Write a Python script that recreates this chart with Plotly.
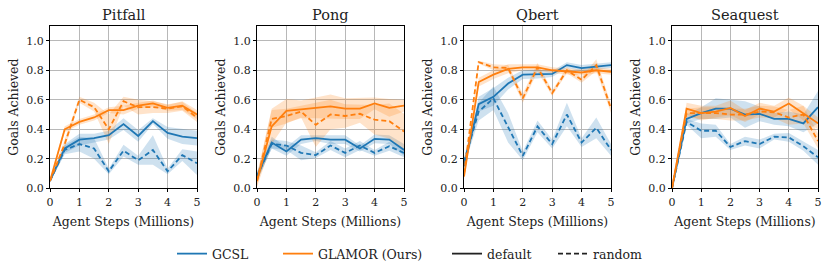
import plotly.graph_objects as go

steps = [0, 0.5, 1, 1.5, 2, 2.5, 3, 3.5, 4, 4.5, 5]
games = ["Pitfall", "Pong", "Qbert", "Seaquest"]

# Pitfall
pitfall_gcsl_default = [0.05, 0.27, 0.33, 0.34, 0.36, 0.435, 0.355, 0.455, 0.375, 0.35, 0.34]
pitfall_gcsl_default_err = [0.01, 0.03, 0.04, 0.03, 0.03, 0.04, 0.04, 0.02, 0.04, 0.05, 0.05]
pitfall_gcsl_random = [0.05, 0.26, 0.30, 0.27, 0.115, 0.255, 0.19, 0.26, 0.115, 0.225, 0.17]
pitfall_gcsl_random_err = [0.01, 0.03, 0.05, 0.07, 0.02, 0.04, 0.03, 0.10, 0.02, 0.04, 0.08]
pitfall_glamor_default = [0.05, 0.40, 0.45, 0.48, 0.53, 0.53, 0.56, 0.575, 0.545, 0.56, 0.50]
pitfall_glamor_default_err = [0.01, 0.02, 0.02, 0.02, 0.02, 0.03, 0.02, 0.02, 0.02, 0.03, 0.03]
pitfall_glamor_random = [0.05, 0.30, 0.60, 0.55, 0.40, 0.59, 0.55, 0.55, 0.54, 0.555, 0.48]
pitfall_glamor_random_err = [0.01, 0.03, 0.02, 0.03, 0.10, 0.03, 0.05, 0.04, 0.03, 0.03, 0.03]

# Pong
pong_gcsl_default = [0.08, 0.31, 0.25, 0.33, 0.34, 0.33, 0.33, 0.27, 0.335, 0.33, 0.26]
pong_gcsl_default_err = [0.03, 0.04, 0.03, 0.03, 0.02, 0.03, 0.03, 0.02, 0.03, 0.03, 0.04]
pong_gcsl_random = [0.08, 0.30, 0.29, 0.24, 0.225, 0.29, 0.24, 0.29, 0.24, 0.285, 0.24]
pong_gcsl_random_err = [0.03, 0.03, 0.03, 0.05, 0.02, 0.03, 0.03, 0.03, 0.02, 0.03, 0.03]
pong_glamor_default = [0.05, 0.42, 0.525, 0.535, 0.545, 0.555, 0.54, 0.54, 0.575, 0.545, 0.56]
pong_glamor_default_err = [0.04, 0.12, 0.08, 0.06, 0.07, 0.08, 0.07, 0.07, 0.04, 0.06, 0.04]
pong_glamor_random = [0.05, 0.47, 0.49, 0.52, 0.43, 0.50, 0.49, 0.505, 0.465, 0.455, 0.385]
pong_glamor_random_err = [0.04, 0.06, 0.05, 0.04, 0.15, 0.10, 0.08, 0.06, 0.10, 0.12, 0.12]

# Qbert
qbert_gcsl_default = [0.15, 0.57, 0.62, 0.71, 0.77, 0.775, 0.775, 0.835, 0.815, 0.825, 0.835]
qbert_gcsl_default_err = [0.03, 0.05, 0.06, 0.04, 0.03, 0.03, 0.02, 0.02, 0.02, 0.02, 0.02]
qbert_gcsl_random = [0.18, 0.52, 0.61, 0.41, 0.22, 0.42, 0.30, 0.50, 0.31, 0.41, 0.26]
qbert_gcsl_random_err = [0.03, 0.06, 0.08, 0.10, 0.03, 0.04, 0.03, 0.08, 0.03, 0.07, 0.04]
qbert_glamor_default = [0.08, 0.72, 0.77, 0.81, 0.82, 0.82, 0.80, 0.79, 0.785, 0.80, 0.79]
qbert_glamor_default_err = [0.02, 0.03, 0.03, 0.03, 0.02, 0.02, 0.02, 0.02, 0.02, 0.02, 0.02]
qbert_glamor_random = [0.10, 0.855, 0.82, 0.815, 0.61, 0.82, 0.645, 0.80, 0.735, 0.835, 0.54]
qbert_glamor_random_err = [0.02, 0.01, 0.02, 0.02, 0.03, 0.03, 0.02, 0.02, 0.02, 0.04, 0.03]

# Seaquest
seaquest_gcsl_default = [0.0, 0.47, 0.51, 0.54, 0.54, 0.50, 0.505, 0.47, 0.47, 0.44, 0.55]
seaquest_gcsl_default_err = [0.0, 0.03, 0.04, 0.07, 0.06, 0.09, 0.05, 0.04, 0.05, 0.06, 0.11]
seaquest_gcsl_random = [0.0, 0.45, 0.39, 0.39, 0.28, 0.32, 0.30, 0.35, 0.345, 0.285, 0.21]
seaquest_gcsl_random_err = [0.0, 0.02, 0.05, 0.04, 0.02, 0.03, 0.03, 0.02, 0.03, 0.03, 0.05]
seaquest_glamor_default = [0.0, 0.54, 0.51, 0.52, 0.545, 0.49, 0.54, 0.52, 0.575, 0.51, 0.44]
seaquest_glamor_default_err = [0.0, 0.04, 0.05, 0.04, 0.05, 0.04, 0.04, 0.04, 0.04, 0.05, 0.04]
seaquest_glamor_random = [0.0, 0.51, 0.51, 0.51, 0.50, 0.50, 0.52, 0.515, 0.48, 0.50, 0.32]
seaquest_glamor_random_err = [0.0, 0.03, 0.04, 0.04, 0.04, 0.04, 0.04, 0.04, 0.05, 0.06, 0.05]

legend_labels = ["GCSL", "GLAMOR (Ours)", "default", "random"]

data = {
    "Pitfall": [
        ("gcsl", "solid", pitfall_gcsl_default, pitfall_gcsl_default_err),
        ("gcsl", "dash", pitfall_gcsl_random, pitfall_gcsl_random_err),
        ("glamor", "solid", pitfall_glamor_default, pitfall_glamor_default_err),
        ("glamor", "dash", pitfall_glamor_random, pitfall_glamor_random_err),
    ],
    "Pong": [
        ("gcsl", "solid", pong_gcsl_default, pong_gcsl_default_err),
        ("gcsl", "dash", pong_gcsl_random, pong_gcsl_random_err),
        ("glamor", "solid", pong_glamor_default, pong_glamor_default_err),
        ("glamor", "dash", pong_glamor_random, pong_glamor_random_err),
    ],
    "Qbert": [
        ("gcsl", "solid", qbert_gcsl_default, qbert_gcsl_default_err),
        ("gcsl", "dash", qbert_gcsl_random, qbert_gcsl_random_err),
        ("glamor", "solid", qbert_glamor_default, qbert_glamor_default_err),
        ("glamor", "dash", qbert_glamor_random, qbert_glamor_random_err),
    ],
    "Seaquest": [
        ("gcsl", "solid", seaquest_gcsl_default, seaquest_gcsl_default_err),
        ("gcsl", "dash", seaquest_gcsl_random, seaquest_gcsl_random_err),
        ("glamor", "solid", seaquest_glamor_default, seaquest_glamor_default_err),
        ("glamor", "dash", seaquest_glamor_random, seaquest_glamor_random_err),
    ],
}

colors = {"gcsl": "#1f77b4", "glamor": "#ff7f0e"}
bands = {"gcsl": "rgba(31,119,180,0.22)", "glamor": "rgba(255,127,14,0.22)"}

W, H = 830, 275
xdomains = [(50, 197), (257, 404), (464, 611), (672, 818)]
ytop, ybot = 26, 188.3
FONT = "DejaVu Serif, serif"


def px(x):
    return x / W


def py(y):
    return 1 - y / H


fig = go.Figure()
for i, g in enumerate(games):
    ax = "" if i == 0 else str(i + 1)
    for method, dash, mean, err in data[g]:
        upper = [m + e for m, e in zip(mean, err)]
        lower = [m - e for m, e in zip(mean, err)]
        fig.add_trace(go.Scatter(
            x=steps + steps[::-1], y=upper + lower[::-1], fill="toself",
            fillcolor=bands[method], line=dict(width=0), mode="lines",
            hoverinfo="skip", showlegend=False, xaxis="x" + ax, yaxis="y" + ax))
    for method, dash, mean, err in data[g]:
        fig.add_trace(go.Scatter(
            x=steps, y=mean, mode="lines",
            line=dict(color=colors[method], width=1.8, dash="solid" if dash == "solid" else "5px,3px"),
            showlegend=False, xaxis="x" + ax, yaxis="y" + ax))
    x0, x1 = xdomains[i]
    common_axis = dict(showline=True, mirror=True, linecolor="black", linewidth=1,
                       showgrid=True, gridcolor="#b8b8b8", gridwidth=1, zeroline=False,
                       ticks="outside", ticklen=3, tickcolor="black", automargin=False,
                       tickfont=dict(family=FONT, size=11, color="#222"))
    fig.layout["xaxis" + ax] = dict(
        domain=[px(x0), px(x1)], range=[0, 5], tickvals=[0, 1, 2, 3, 4, 5],
        anchor="y" + ax,
        title=dict(text="Agent Steps (Millions)", font=dict(family=FONT, size=12.5, color="#222"), standoff=9),
        **common_axis)
    fig.layout["yaxis" + ax] = dict(
        domain=[py(ybot), py(ytop)], range=[0, 1.1], tickvals=[0, 0.2, 0.4, 0.6, 0.8, 1.0],
        tickformat=".1f", anchor="x" + ax,
        title=dict(text="Goals Achieved", font=dict(family=FONT, size=12.5, color="#222"), standoff=4),
        **common_axis)
    fig.add_annotation(text=g, x=px((x0 + x1) / 2), y=py(15), xref="paper", yref="paper",
                       showarrow=False, font=dict(family=FONT, size=14.5, color="#222"),
                       xanchor="center", yanchor="middle")

# legend entries, one legend box per entry so spacing follows the reference
legend_styles = [
    dict(color=colors["gcsl"], width=1.8),
    dict(color=colors["glamor"], width=1.8),
    dict(color="#222", width=1.8),
    dict(color="#222", width=1.8, dash="5px,3px"),
]
legend_ids = ["legend", "legend2", "legend3", "legend4"]
legend_line_start = [182, 288, 457, 563]
for name, style, lid in zip(legend_labels, legend_styles, legend_ids):
    fig.add_trace(go.Scatter(x=[None], y=[None], mode="lines", name=name,
                             line=style, legend=lid))

legend_common = dict(orientation="h", yanchor="middle", y=py(254), xanchor="left",
                     font=dict(family=FONT, size=12.5, color="#222"),
                     bgcolor="rgba(0,0,0,0)", borderwidth=0)
layout_legends = {}
for lid, xs in zip(legend_ids, legend_line_start):
    layout_legends[lid] = dict(x=px(xs - 10), **legend_common)

fig.update_layout(
    width=W, height=H, margin=dict(l=0, r=0, t=0, b=0),
    paper_bgcolor="white", plot_bgcolor="white",
    font=dict(family=FONT),
    **layout_legends,
)
fig.write_html("out.html", config={"displayModeBar": False},
               post_script="document.body.style.margin='0';document.body.style.overflow='hidden';")
